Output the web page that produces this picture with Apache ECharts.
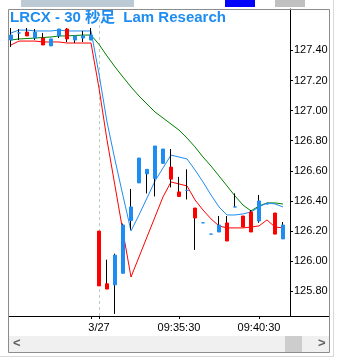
<!DOCTYPE html>
<html><head><meta charset="utf-8">
<script src="https://cdn.jsdelivr.net/npm/echarts@6/dist/echarts.min.js"></script>
<style>html,body{margin:0;padding:0;background:#fff;}#c{width:338px;height:361px;}</style>
</head><body><div id="c"></div>
<script>
const categories = ['15:55:00','15:55:30','15:56:00','15:56:30','15:57:00','15:57:30','15:58:00','15:58:30','15:59:00','15:59:30','16:00:00',
  '09:30:30','09:31:00','09:31:30','09:32:00','09:32:30','09:33:00','09:33:30','09:34:00','09:34:30','09:35:00',
  '09:35:30','09:36:00','09:36:30','09:37:00','09:37:30','09:38:00','09:38:30','09:39:00','09:39:30','09:40:00',
  '09:40:30','09:41:00','09:41:30','09:42:00'];
const opens  = [127.469,127.516,127.522,127.482,127.482,127.430,127.496,127.542,127.469,127.482,127.469,
  126.200,125.850,125.843,125.920,126.270,126.520,126.580,126.550,126.650,126.625,126.460,126.470,126.353,126.255,126.180,126.194,126.254,126.360,126.300,126.327,126.267,126.380,126.320,126.148];
const closes = [127.502,127.516,127.496,127.522,127.436,127.476,127.542,127.476,127.496,127.496,127.502,
  125.836,125.815,126.040,126.240,126.360,126.685,126.610,126.765,126.745,126.545,126.430,126.470,126.287,126.255,126.180,126.240,126.134,126.360,126.227,126.194,126.400,126.380,126.180,126.240];
const lows   = [127.423,127.469,127.496,127.469,127.436,127.430,127.482,127.456,127.449,127.456,127.469,
  125.836,125.815,125.650,125.920,126.210,126.520,126.450,126.430,126.650,126.490,126.430,126.410,126.075,126.255,126.180,126.194,126.134,126.360,126.227,126.194,126.255,126.380,126.180,126.148];
const highs  = [127.549,127.542,127.549,127.542,127.516,127.476,127.542,127.549,127.496,127.529,127.549,
  126.200,126.010,126.050,126.250,126.480,126.685,126.610,126.765,126.745,126.745,126.560,126.610,126.353,126.255,126.180,126.300,126.300,126.450,126.300,126.340,126.440,126.380,126.320,126.260];
const lineBlue  = [127.516,127.535,127.535,127.529,127.529,127.529,127.535,127.529,127.529,127.529,127.529,
  127.243,126.925,126.672,126.434,126.201,126.307,126.420,126.533,126.619,126.705,126.692,126.679,126.606,126.526,126.440,126.360,126.307,126.307,126.314,126.327,126.360,126.387,126.380,126.360];
const lineRed   = [127.436,127.462,127.462,127.462,127.456,127.456,127.456,127.449,127.449,127.449,127.449,
  127.150,126.805,126.500,126.194,125.895,126.028,126.161,126.294,126.427,126.526,126.513,126.500,126.407,126.340,126.281,126.234,126.221,126.221,126.221,126.227,126.234,126.274,126.227,126.221];
const lineGreen = [127.469,127.476,127.479,127.482,127.486,127.489,127.496,127.496,127.499,127.502,127.502,
  127.440,127.363,127.290,127.223,127.157,127.097,127.044,126.991,126.951,126.911,126.871,126.818,126.759,126.692,126.632,126.566,126.500,126.433,126.373,126.334,126.367,126.387,126.387,126.380];
const yTicks = [125.8,126.0,126.2,126.4,126.6,126.8,127.0,127.2,127.4];
const xTickCategories = ['16:00:00','09:30:30','09:35:30','09:40:30'];
const xLabelCategories = ['09:30:30','09:35:30','09:40:30'];
const xTickLabels = ['3/27','09:35:30','09:40:30'];
const sessionStart = '09:30:30';
const titleText = 'LRCX - 30 秒足  Lam Research';

const BLUE = '#1e8cf0', RED = '#ff0000', GREEN = '#008000';
const FONT = 'Liberation Sans, Arial, Noto Sans CJK JP, sans-serif';

const wickData = categories.map((c, i) => [opens[i], closes[i], lows[i], highs[i]]);
const bodyData = categories.map((c, i) => {
  const v = [opens[i], closes[i], Math.min(opens[i], closes[i]), Math.max(opens[i], closes[i])];
  if (opens[i] === closes[i]) {
    return { value: v, itemStyle: { color: BLUE, color0: BLUE, borderColor: BLUE, borderColor0: BLUE } };
  }
  return v;
});

const chart = echarts.init(document.getElementById('c'), null, { renderer: 'canvas' });
chart.setOption({
  animation: false,
  backgroundColor: '#fff',
  title: {
    text: titleText, left: 10, top: 10, padding: 0,
    textStyle: { color: BLUE, fontSize: 15, fontWeight: 'bold', fontFamily: FONT }
  },
  grid: { left: 7, right: 51, top: 9, bottom: 45 },
  xAxis: {
    type: 'category', data: categories, boundaryGap: true,
    axisLine: { show: false },
    axisTick: { show: true, alignWithLabel: true, length: 3,
      interval: (idx, val) => xTickCategories.includes(val),
      lineStyle: { color: '#000' } },
    axisLabel: { show: true, margin: 6, color: '#000', fontSize: 11, fontFamily: FONT,
      interval: (idx, val) => xLabelCategories.includes(val),
      formatter: (val) => { const k = xLabelCategories.indexOf(val); return k >= 0 ? xTickLabels[k] : ''; } },
    splitLine: { show: false }
  },
  yAxis: {
    type: 'value', position: 'right', offset: 3, scale: true,
    min: 125.636, max: 127.675,
    axisLine: { show: true, lineStyle: { color: '#000' } },
    axisTick: { show: true, length: 3, customValues: yTicks, lineStyle: { color: '#000' } },
    axisLabel: { show: true, margin: 4, color: '#000', fontSize: 11, fontFamily: FONT,
      customValues: yTicks, formatter: (v) => v.toFixed(2) },
    splitLine: { show: false }
  },
  series: [
    { type: 'line', data: lineGreen, symbol: 'none', lineStyle: { color: GREEN, width: 1 }, itemStyle: { color: GREEN }, z: 2,
      markLine: { silent: true, symbol: 'none', z: 1, label: { show: false },
        lineStyle: { color: '#b9cdb9', type: [3, 3], width: 1 },
        data: [{ xAxis: sessionStart }] } },
    { type: 'line', data: lineRed, symbol: 'none', lineStyle: { color: RED, width: 1 }, itemStyle: { color: RED }, z: 2 },
    { type: 'line', data: lineBlue, symbol: 'none', lineStyle: { color: BLUE, width: 1 }, itemStyle: { color: BLUE }, z: 2 },
    { type: 'candlestick', data: wickData, barWidth: 1, z: 6,
      itemStyle: { color: '#000', color0: '#000', borderColor: '#000', borderColor0: '#000', borderColorDoji: '#000', borderWidth: 1 } },
    { type: 'candlestick', data: bodyData, barWidth: 4, z: 7,
      itemStyle: { color: BLUE, color0: RED, borderColor: BLUE, borderColor0: RED, borderColorDoji: BLUE, borderWidth: 1 } }
  ],
  graphic: [
    { type: 'rect', z: 100, shape: { x: 21, y: 0, width: 113, height: 7 }, style: { fill: '#bccad6' } },
    { type: 'rect', z: 100, shape: { x: 225, y: 0, width: 30, height: 7 }, style: { fill: '#0000ff' } },
    { type: 'rect', z: 100, shape: { x: 275, y: 0, width: 30, height: 7 }, style: { fill: '#c0c0c0' } },
    { type: 'rect', z: 100, shape: { x: 8.5, y: 336, width: 321, height: 16 }, style: { fill: '#f0f0f0' } },
    { type: 'rect', z: 101, shape: { x: 285, y: 336, width: 17, height: 16 }, style: { fill: '#cdcdcd' } },
    { type: 'text', z: 101, x: 13, y: 337, style: { text: '<', fill: '#606060', font: 'bold 13px ' + FONT } },
    { type: 'text', z: 101, x: 318, y: 337, style: { text: '>', fill: '#606060', font: 'bold 13px ' + FONT } },
    { type: 'line', z: 102, shape: { x1: 8, y1: 316.5, x2: 330, y2: 316.5 }, style: { stroke: '#000', lineWidth: 1 } },
    { type: 'rect', z: 102, shape: { x: 8.5, y: 9.5, width: 321, height: 343 }, style: { fill: 'none', stroke: '#8c8c8c', lineWidth: 1 } },
    { type: 'line', z: 102, shape: { x1: 333.5, y1: 0, x2: 333.5, y2: 356 }, style: { stroke: '#d8d8d8', lineWidth: 1 } },
    { type: 'line', z: 102, shape: { x1: 0, y1: 356.5, x2: 334, y2: 356.5 }, style: { stroke: '#d8d8d8', lineWidth: 1 } }
  ]
});
</script></body></html>
